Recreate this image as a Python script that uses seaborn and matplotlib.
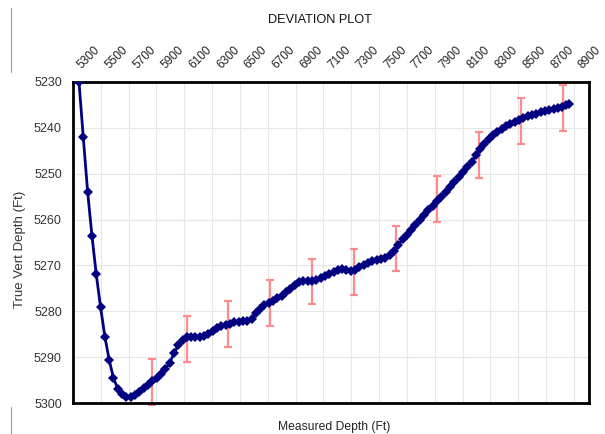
import numpy as np
import pandas as pd
import seaborn as sns
import matplotlib
matplotlib.use("Agg")
import matplotlib.pyplot as plt
import matplotlib.transforms as mtransforms
from matplotlib.lines import Line2D

# survey points
md = [5343, 5374, 5405, 5436, 5467, 5498, 5529, 5560, 5591, 5622,
      5653, 5684, 5715, 5746, 5777, 5808, 5839, 5870, 5901, 5932,
      5963, 5994, 6025, 6056, 6087, 6118, 6149, 6180, 6211, 6242,
      6273, 6304, 6335, 6366, 6397, 6428, 6459, 6490, 6521, 6552,
      6583, 6614, 6645, 6676, 6707, 6738, 6769, 6800, 6831, 6862,
      6893, 6924, 6955, 6986, 7017, 7048, 7079, 7110, 7141, 7172,
      7203, 7234, 7265, 7296, 7327, 7358, 7389, 7420, 7451, 7482,
      7513, 7544, 7575, 7606, 7637, 7668, 7699, 7730, 7761, 7792,
      7823, 7854, 7885, 7916, 7947, 7978, 8009, 8040, 8071, 8102,
      8133, 8164, 8195, 8226, 8257, 8288, 8319, 8350, 8381, 8412,
      8443, 8474, 8505, 8536, 8567, 8598, 8629, 8660, 8691, 8722,
      8753, 8784, 8815, 8846, 8866]
tvd = [5230.0, 5242.1, 5253.9, 5263.5, 5271.9, 5279.1, 5285.5, 5290.6, 5294.6, 5296.9,
       5298.1, 5298.7, 5298.8, 5298.2, 5297.6, 5296.7, 5296.0, 5295.3, 5294.6, 5293.7,
       5292.6, 5291.3, 5289.2, 5287.4, 5286.2, 5285.7, 5285.6, 5285.7, 5285.6, 5285.4,
       5284.9, 5284.2, 5283.7, 5283.3, 5283.0, 5282.7, 5282.4, 5282.3, 5282.2, 5282.1,
       5281.7, 5280.4, 5279.4, 5278.7, 5278.2, 5277.8, 5277.2, 5276.6, 5275.9, 5275.1,
       5274.2, 5273.6, 5273.4, 5273.5, 5273.5, 5273.2, 5272.7, 5272.2, 5271.8, 5271.4,
       5271.0, 5270.8, 5270.9, 5271.2, 5271.0, 5270.4, 5269.8, 5269.4, 5269.1, 5268.8,
       5268.6, 5268.3, 5267.8, 5266.8, 5265.5, 5264.3, 5263.3, 5262.2, 5261.1, 5260.0,
       5258.9, 5257.9, 5257.0, 5256.0, 5255.0, 5254.0, 5253.0, 5251.9, 5250.8, 5249.7,
       5248.6, 5247.4, 5246.0, 5244.7, 5243.5, 5242.5, 5241.6, 5240.8, 5240.2, 5239.6,
       5239.1, 5238.7, 5238.3, 5237.9, 5237.5, 5237.2, 5236.9, 5236.6, 5236.3, 5236.1,
       5235.9, 5235.6, 5235.4, 5235.1, 5234.8]

# error bars
err_md = [5870, 6117, 6416, 6716, 7020, 7319, 7621, 7918, 8221, 8519, 8823]
err_tvd = [5295.5, 5286.0, 5282.7, 5278.1, 5273.5, 5271.5, 5266.3, 5255.5, 5246.0, 5238.5, 5235.7]
err_size = [5, 5, 5, 5, 5, 5, 5, 5, 5, 5, 5]

x_ticks = list(range(5300, 9100, 200))
y_ticks = [5230, 5240, 5250, 5260, 5270, 5280, 5290, 5300]

sns.set_style("white")
plt.rcParams['font.family'] = ['Liberation Sans', 'DejaVu Sans']

df = pd.DataFrame({'md': md, 'tvd': tvd})

fig = plt.figure(figsize=(6.05, 4.34), dpi=100)
ax = fig.add_axes([73 / 605, 1 - 403 / 434, 516 / 605, 321 / 434])

ax.grid(True, color='#e6e6e6', linewidth=0.8)
ax.set_axisbelow(True)

ax.errorbar(err_md, err_tvd, yerr=err_size, fmt='none', ecolor='#ff8c8c',
            elinewidth=1.6, capsize=3, capthick=1.6, zorder=2, clip_on=False)

sns.lineplot(data=df, x='md', y='tvd', sort=False, ax=ax, color='#000080',
             linewidth=2, marker='D', markersize=5.5, markeredgewidth=0,
             zorder=3)

ax.set_xlim(5300, 9008)
ax.set_ylim(5300, 5230)
ax.set_xticks(x_ticks)
ax.set_yticks(y_ticks)
ax.xaxis.tick_top()
ax.tick_params(axis='x', length=0, pad=8, labelsize=8.5, colors='#222222')
ax.tick_params(axis='y', length=0, pad=8, labelsize=9, colors='#333333')
shift = mtransforms.ScaledTranslation(11 / 100, 0, fig.dpi_scale_trans)
for lab in ax.get_xticklabels():
    lab.set_rotation(45)
    lab.set_ha('left')
    lab.set_va('bottom')
    lab.set_rotation_mode('anchor')
    lab.set_transform(lab.get_transform() + shift)
ax.set_xlabel('')
ax.set_ylabel('')

for s in ax.spines.values():
    s.set_color('black')
    s.set_linewidth(2)

fig.text(320 / 605, 1 - 20 / 434, 'DEVIATION PLOT', ha='center', va='center',
         fontsize=9.2, color='#111111')
fig.text(20 / 605, 1 - 249 / 434, 'True Vert Depth (Ft)', ha='center', va='center',
         rotation=90, fontsize=9.5, color='#333333')
fig.text(334 / 605, 1 - 427 / 434, 'Measured Depth (Ft)', ha='center', va='center',
         fontsize=8.7, color='#222222')

# thin grey edges at the left, as in the screenshot
fig.add_artist(Line2D([10.5 / 605, 10.5 / 605], [1 - 8 / 434, 1 - 72 / 434],
                      color='#999999', linewidth=0.8))
fig.add_artist(Line2D([10.5 / 605, 10.5 / 605], [0, 1 - 407 / 434],
                      color='#999999', linewidth=0.8))

fig.savefig('out.png', dpi=100)
